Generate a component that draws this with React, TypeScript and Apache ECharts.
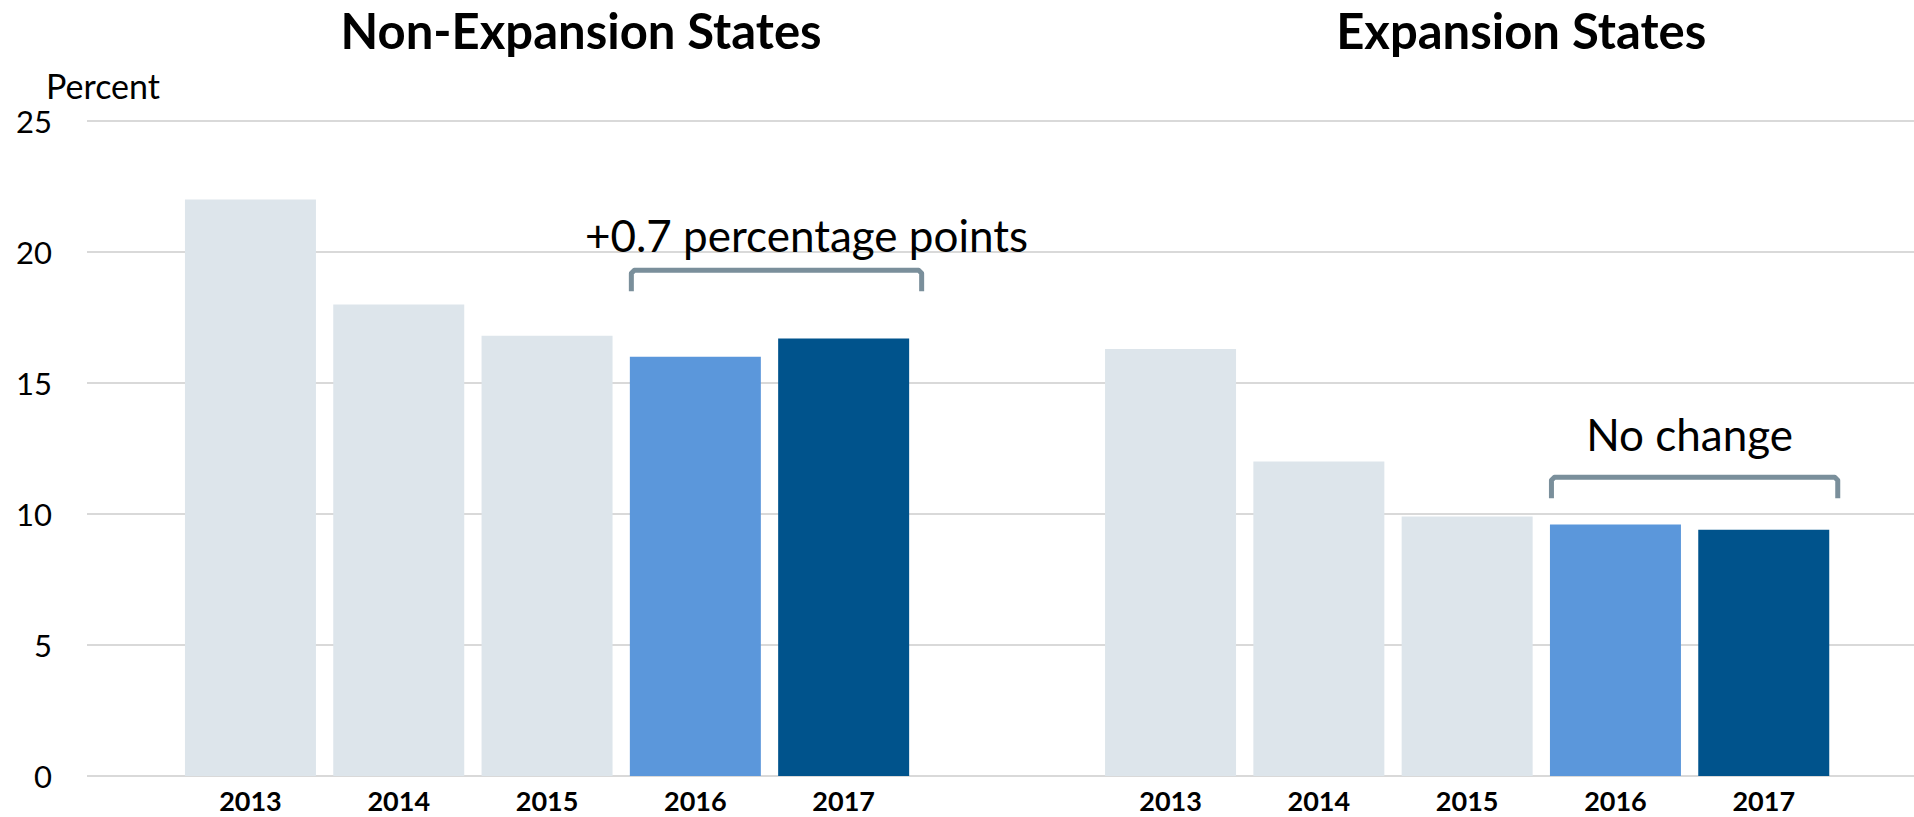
import React, { useEffect, useRef } from "react";
import * as echarts from "echarts";

const years = ["2013", "2014", "2015", "2016", "2017"];
const nonExpansion = [22.0, 18.0, 16.8, 16.0, 16.7];
const expansion = [16.3, 12.0, 9.9, 9.6, 9.4];
const panelTitles = ["Non-Expansion States", "Expansion States"];
const changeLabels = ["+0.7 percentage points", "No change"];
const bracketTop = [19.3, 11.4];
const labelLevel = [20.6, 13.0];
const yTicks = { min: 0, max: 25, interval: 5 };

const barColors = ["#dde5eb", "#dde5eb", "#dde5eb", "#5b97db", "#00538c"];
const FONT = "Lato, 'Noto Sans', sans-serif";

export default function App() {
  const ref = useRef<HTMLDivElement>(null);
  useEffect(() => {
    if (!ref.current) return;
    const chart = echarts.init(ref.current, undefined, { renderer: "svg" });
    const gridTop = 121;
    const gridBottom = 41;
    const pitch = 148.3;
    const panelLeft = [176.3, 1096.4];
    const catAxis = (gridIndex: number) => ({
      type: "category",
      gridIndex,
      data: years,
      axisLine: { show: false },
      axisTick: { show: false },
      axisLabel: {
        color: "#000",
        fontFamily: FONT,
        fontWeight: "bold",
        fontSize: 27,
        lineHeight: 24,
        margin: 12,
      },
    });
    const hiddenY = (gridIndex: number) => ({
      type: "value",
      gridIndex,
      ...yTicks,
      show: false,
      splitLine: { show: false },
    });
    const barSeries = (idx: number, values: number[]) => ({
      type: "bar",
      xAxisIndex: idx,
      yAxisIndex: idx,
      barWidth: 131,
      data: values.map((v, i) => ({ value: v, itemStyle: { color: barColors[i] } })),
    });
    chart.setOption({
      animation: false,
      grid: [
        { left: 87, right: 0, top: gridTop, bottom: gridBottom },
        { left: panelLeft[0], width: pitch * 5, top: gridTop, bottom: gridBottom },
        { left: panelLeft[1], width: pitch * 5, top: gridTop, bottom: gridBottom },
      ],
      xAxis: [
        { type: "value", gridIndex: 0, show: false, splitLine: { show: false } },
        catAxis(1),
        catAxis(2),
      ],
      yAxis: [
        {
          type: "value",
          gridIndex: 0,
          ...yTicks,
          axisLine: { show: false },
          axisTick: { show: false },
          axisLabel: { color: "#000", fontFamily: FONT, fontSize: 31, margin: 35 },
          splitLine: { lineStyle: { color: "#d9d9d9", width: 2 } },
        },
        hiddenY(1),
        hiddenY(2),
      ],
      series: [barSeries(1, nonExpansion), barSeries(2, expansion)],
    });

    const graphics: any[] = [
      {
        type: "text",
        x: 46,
        y: 85,
        style: { text: "Percent", fill: "#000", font: `34px ${FONT}`, verticalAlign: "middle" },
      },
    ];
    [0, 1].forEach((p) => {
      const gi = p + 1;
      const c16 = chart.convertToPixel({ xAxisIndex: gi, yAxisIndex: gi } as any, ["2016", bracketTop[p]]) as number[];
      const c17 = chart.convertToPixel({ xAxisIndex: gi, yAxisIndex: gi } as any, ["2017", bracketTop[p]]) as number[];
      const lab = chart.convertToPixel({ xAxisIndex: gi, yAxisIndex: gi } as any, ["2017", labelLevel[p]]) as number[];
      const x0 = c16[0] - 64;
      const x1 = c17[0] + (p === 0 ? 78 : 74);
      const yTop = c16[1];
      graphics.push({
        type: "polyline",
        shape: { points: [[x0, yTop + 21], [x0, yTop + 3], [x0 + 3, yTop], [x1 - 3, yTop], [x1, yTop + 3], [x1, yTop + 21]] },
        style: { stroke: "#7a8f9b", lineWidth: 5, fill: "none", lineJoin: "round" },
      });
      const mid = (x0 + x1) / 2 + (p === 0 ? 30 : -5);
      graphics.push({
        type: "text",
        x: mid,
        y: lab[1] - 1,
        style: { text: changeLabels[p], fill: "#000", font: `44px ${FONT}`, align: "center", verticalAlign: "middle" },
      });
      const g0 = chart.convertToPixel({ xAxisIndex: gi } as any, "2013") as number;
      const g4 = chart.convertToPixel({ xAxisIndex: gi } as any, "2017") as number;
      graphics.push({
        type: "text",
        x: (g0 + g4) / 2 + (p === 0 ? 34 : 54),
        y: 30,
        style: { text: panelTitles[p], fill: "#000", font: `bold 49px ${FONT}`, align: "center", verticalAlign: "middle" },
      });
    });
    chart.setOption({ graphic: graphics });
    return () => chart.dispose();
  }, []);
  return (
    <div
      ref={ref}
      style={{ position: "fixed", left: 0, top: 0, width: 1914, height: 817, background: "#fff" }}
    />
  );
}
